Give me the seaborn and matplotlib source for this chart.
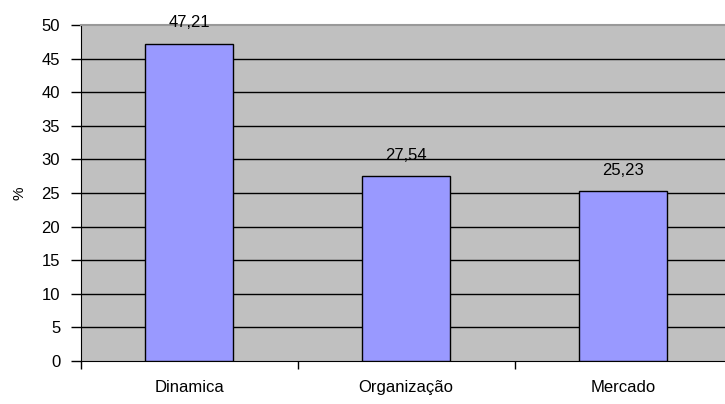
import seaborn as sns
import matplotlib.pyplot as plt
import pandas as pd

categorias = ['Dinamica', 'Organização', 'Mercado']
valores = [47.21, 27.54, 25.23]
rotulos = ['47,21', '27,54', '25,23']

df = pd.DataFrame({'categoria': categorias, 'valor': valores})

sns.set_style('white')
plt.rcParams['font.family'] = ['Liberation Sans', 'DejaVu Sans']
plt.rcParams['text.color'] = 'black'
plt.rcParams['xtick.color'] = 'black'
plt.rcParams['ytick.color'] = 'black'
plt.rcParams['axes.labelcolor'] = 'black'

fig = plt.figure(figsize=(7.25, 4.04), dpi=100)
ax = fig.add_axes([0.1117, 0.1064, 0.8883, 0.8316])
ax.set_facecolor('#C0C0C0')

sns.barplot(data=df, x='categoria', y='valor', color='#9999FF', saturation=1,
            width=0.405, edgecolor='black', linewidth=1, ax=ax, zorder=3)

# linhas de grade pretas
for y in range(5, 50, 5):
    ax.axhline(y, color='black', linewidth=1, zorder=1)

ax.set_ylim(0, 50)
ax.set_xlim(-0.5, 2.47)
ax.set_yticks(range(0, 51, 5))
ax.set_xticks([0, 1, 2])
ax.set_xticklabels(categorias)
ax.set_xticks([-0.5, 0.5, 1.5], minor=True)
ax.tick_params(axis='x', which='major', length=0, pad=14, labelsize=12)
ax.tick_params(axis='x', which='minor', length=6, width=1, color='black', direction='out')
ax.tick_params(axis='y', length=7, width=1, color='black', direction='out', labelsize=12, pad=8)
ax.yaxis.set_ticks_position('left')
ax.xaxis.set_ticks_position('bottom')

for i, r in enumerate(rotulos):
    ax.text(i, valores[i] + 2.0, r, ha='center', va='bottom', fontsize=12)

ax.set_xlabel('')
ax.set_ylabel('%', fontsize=11, labelpad=11)

ax.spines['left'].set_color('black')
ax.spines['bottom'].set_color('black')
ax.spines['top'].set_color('#999999')
ax.spines['top'].set_linewidth(1.5)
ax.spines['right'].set_visible(False)

fig.savefig('out.png', dpi=100)
